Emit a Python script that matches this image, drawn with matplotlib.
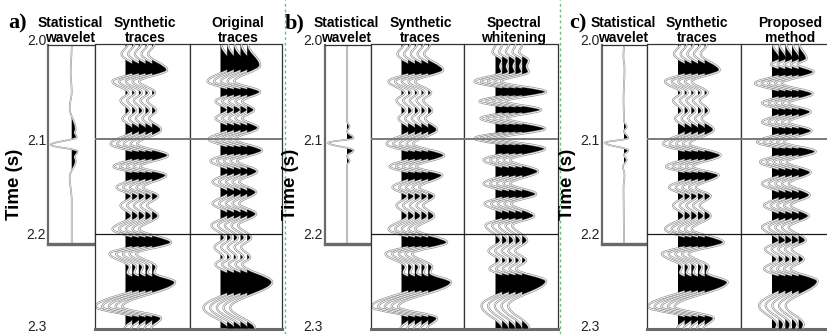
import numpy as np
import matplotlib.pyplot as plt
import matplotlib.patheffects as pe
from matplotlib.path import Path
from matplotlib.lines import Line2D
from matplotlib.transforms import ScaledTranslation
from matplotlib import font_manager

plt.rcParams['font.family'] = ['Liberation Sans', 'DejaVu Sans']

W, H = 827, 334          # figure size in pixels

# time axis (s)
time_ticks = [2.0, 2.1, 2.2, 2.3]
t_top, t_bottom = 2.0, 2.3
wavelet_end = 2.211

panel_letters = ['a)', 'b)', 'c)']
wavelet_title = ('Statistical', 'wavelet')
synth_title = ('Synthetic', 'traces')
right_titles = [('Original', 'traces'), ('Spectral', 'whitening'), ('Proposed', 'method')]

# trace extrema: time (s) and amplitude (1 unit = 10 px)
synth_t = [2.000, 2.010, 2.027, 2.039, 2.051, 2.059, 2.070, 2.078, 2.090, 2.105, 2.117, 2.129, 2.138,
           2.151, 2.160, 2.170, 2.181, 2.195, 2.209, 2.221, 2.235, 2.241, 2.251, 2.277, 2.289, 2.300]
synth_a = [0.2, -0.4, 1.5, -1.3, 0.3, -0.5, 0.4, -0.3, 0.9, -1.5, 1.6, -1.2, 1.4,
           -0.9, 0.6, -0.5, 0.6, -1.3, 1.9, -1.6, 0.4, 0.2, 2.3, -3.0, 0.9, -0.1]

orig_t = [2.000, 2.022, 2.039, 2.050, 2.060, 2.069, 2.078, 2.088, 2.100, 2.112, 2.123, 2.134,
          2.145, 2.156, 2.168, 2.179, 2.191, 2.204, 2.214, 2.225, 2.232, 2.251, 2.278, 2.300]
orig_a = [0.1, 1.3, -1.3, 1.3, -0.5, 0.7, -0.5, 1.1, -1.2, 1.5, -1.0, 1.0,
          -0.8, 0.9, -0.8, 0.9, -0.9, 0.4, -0.6, 0.3, -0.5, 2.5, -1.7, 0.8]

spec_t = [2.000, 2.008, 2.017, 2.023, 2.029, 2.039, 2.050, 2.060, 2.069, 2.078, 2.089, 2.099, 2.110, 2.122,
          2.134, 2.147, 2.158, 2.168, 2.181, 2.191, 2.207, 2.218, 2.228, 2.237, 2.250, 2.276, 2.300]
spec_a = [0.0, -0.3, 0.65, 0.45, 0.65, -2.1, 2.4, -1.6, 1.9, -1.5, 2.3, -2.1, 2.3, -1.2,
          1.6, -1.2, 1.4, -1.1, 1.2, -1.0, 0.5, -0.7, 0.4, -0.6, 2.4, -1.4, 0.7]

prop_t = [2.000, 2.015, 2.021, 2.029, 2.041, 2.052, 2.062, 2.071, 2.082, 2.091, 2.103, 2.113, 2.124, 2.135,
          2.147, 2.159, 2.170, 2.181, 2.193, 2.207, 2.216, 2.227, 2.237, 2.250, 2.276, 2.296, 2.300]
prop_a = [0.1, 0.8, -0.1, 1.5, -1.7, 1.4, -1.0, 1.2, -1.0, 1.3, -1.5, 1.7, -1.2, 1.2,
          -1.0, 1.1, -0.8, 1.0, -1.0, 0.7, -0.7, 0.5, -0.8, 1.9, -1.3, 0.5, 0.4]

# estimated wavelets
wav_a_t = [2.000, 2.030, 2.050, 2.067, 2.090, 2.093, 2.098, 2.106, 2.113, 2.119, 2.123, 2.140, 2.165, 2.211]
wav_a_a = [0.0, -0.1, 0.0, -0.2, 0.4, 0.3, 0.5, -2.1, 0.6, 0.3, 0.4, -0.2, 0.0, 0.0]

wav_b_t = [2.000, 2.081, 2.087, 2.092, 2.099, 2.104, 2.112, 2.118, 2.123, 2.128, 2.211]
wav_b_a = [0.0, 0.0, 0.25, 0.0, 0.65, -1.9, 0.65, 0.0, 0.25, 0.0, 0.0]

wav_c_t = [2.000, 2.012, 2.026, 2.060, 2.081, 2.087, 2.092, 2.099, 2.104, 2.112, 2.117, 2.122,
           2.129, 2.138, 2.152, 2.211]
wav_c_a = [0.0, -0.06, 0.05, -0.05, 0.0, 0.27, 0.0, 0.43, -1.9, 0.43, 0.0, 0.27,
           -0.1, 0.05, -0.05, 0.0]

n_traces = 5
GAIN = 10.0        # px per amplitude unit
K = 0.364          # bezier handle for half-cosine shaped lobes

# panel geometry in pixels: wavelet left/right, synthetic right, third box right, wavelet baseline
panels = [
    dict(L=48.3, R1=94.5, R2=189.5, R3=282.0, wb=23.4, wav=(wav_a_t, wav_a_a), third=(orig_t, orig_a)),
    dict(L=324.7, R1=370.5, R2=464.5, R3=557.5, wb=22.3, wav=(wav_b_t, wav_b_a), third=(spec_t, spec_a)),
    dict(L=601.7, R1=647.0, R2=741.0, R3=835.0, wb=22.3, wav=(wav_c_t, wav_c_a), third=(prop_t, prop_a)),
]
letter_x = [8, 285, 569]
Y_TOP, Y_BOT, Y_WAV = 44.5, 328.5, 244.0

names = {f.name for f in font_manager.fontManager.ttflist}
title_font = 'Liberation Sans Narrow' if 'Liberation Sans Narrow' in names else 'Liberation Sans'
title_size = 12.5 if title_font.endswith('Narrow') else 10

fig = plt.figure(figsize=(W / 100, H / 100), dpi=100)


def fx(x):
    return x / W


def fy(y):
    return 1 - y / H


def px_axes(x0, x1, y0, y1):
    return fig.add_axes([x0 / W, 1 - y1 / H, (x1 - x0) / W, (y1 - y0) / H])


def trace_curve(t, a, base):
    # smooth lobes between extrema as cubic beziers (time in ms while flattening)
    x = [base + GAIN * v for v in a]
    ms = [v * 1000 for v in t]
    verts = [(x[0], ms[0])]
    codes = [Path.MOVETO]
    for i in range(1, len(t)):
        dt = ms[i] - ms[i - 1]
        verts += [(x[i - 1], ms[i - 1] + K * dt), (x[i], ms[i] - K * dt), (x[i], ms[i])]
        codes += [Path.CURVE4] * 3
    xy = Path(verts, codes).to_polygons(closed_only=False)[0]
    return xy[:, 0], xy[:, 1] / 1000


def draw_trace(ax, t, a, base, z, outer=1.5, inner=0.6, edge='#8a8a8a'):
    x, y = trace_curve(t, a, base)
    ax.fill_betweenx(y, base, x, where=x >= base, interpolate=True,
                     facecolor='black', edgecolor='none', lw=0, zorder=z)
    ax.plot(x, y, color='white', lw=inner, zorder=z + 0.5, solid_capstyle='butt',
            path_effects=[pe.Stroke(linewidth=outer, foreground=edge), pe.Normal()])


def style_box(ax, bottom_lw=2.2, left_color='#333333', left_lw=0.9):
    ax.set_xticks([])
    ax.set_yticks([])
    for s in ['top', 'right']:
        ax.spines[s].set_color('#333333')
        ax.spines[s].set_linewidth(0.9)
    ax.spines['left'].set_color(left_color)
    ax.spines['left'].set_linewidth(left_lw)
    ax.spines['bottom'].set_color('#6a6a6a')
    ax.spines['bottom'].set_linewidth(bottom_lw)


for p, letter, third_title in zip(panels, panel_letters, right_titles):
    L, R1, R2, R3 = p['L'], p['R1'], p['R2'], p['R3']

    # time labels
    ax_t = px_axes(L, R1, Y_TOP, Y_BOT)
    ax_t.set_ylim(t_bottom, t_top)
    ax_t.set_yticks(time_ticks)
    ax_t.set_yticklabels([f'{v:.1f}' for v in time_ticks])
    ax_t.tick_params(axis='y', length=0, pad=1.5, labelsize=10, labelcolor='#222222')
    ax_t.set_xticks([])
    for s in ax_t.spines.values():
        s.set_visible(False)
    ax_t.patch.set_visible(False)
    tlabels = ax_t.get_yticklabels()
    for lab, dy in [(tlabels[0], 5), (tlabels[-1], 3)]:
        lab.set_transform(lab.get_transform() + ScaledTranslation(0, dy / 100, fig.dpi_scale_trans))

    # wavelet
    ax_w = px_axes(L, R1, Y_TOP, Y_WAV)
    ax_w.set_ylim(wavelet_end, t_top)
    ax_w.set_xlim(-p['wb'], R1 - L - p['wb'])
    style_box(ax_w, bottom_lw=2.4, left_color='#6a6a6a', left_lw=1.6)
    wt, wa = p['wav']
    draw_trace(ax_w, wt, wa, 0.0, 2, outer=1.2, inner=0.4, edge='#8f8f8f')

    # synthetic and processed traces
    for (x0, x1), (tt, aa) in zip([(R1, R2), (R2, R3)], [(synth_t, synth_a), p['third']]):
        ax = px_axes(x0, x1, Y_TOP, Y_BOT)
        ax.set_ylim(t_bottom, t_top)
        ax.set_xlim(0, x1 - x0)
        style_box(ax)
        ax.axhline(2.1, color='#7a7a7a', lw=1.4, zorder=10)
        ax.axhline(2.2, color='#1a1a1a', lw=0.9, zorder=10)
        for k in range(n_traces):
            draw_trace(ax, tt, aa, 31.0 + 6.67 * k, 2 + k)

    # titles
    wc = (L + R1) / 2 - 1
    sc = (R1 + R2) / 2 + 3
    tc = (R2 + R3) / 2 + 2.5
    for cx, (l1, l2) in [(wc, wavelet_title), (sc, synth_title), (tc, third_title)]:
        fig.text(fx(cx), fy(27), l1, ha='center', va='baseline', family=title_font,
                 fontweight='bold', fontsize=title_size)
        fig.text(fx(cx), fy(41.7), l2, ha='center', va='baseline', family=title_font,
                 fontweight='bold', fontsize=title_size)

    fig.text(fx(L - 34), fy(184), 'Time (s)', rotation=90, ha='center', va='center',
             fontsize=13.5, fontweight='bold')

for lx, letter in zip(letter_x, panel_letters):
    fig.text(fx(lx), fy(28), letter, ha='left', va='baseline', family='Liberation Serif',
             fontweight='bold', fontsize=16)

# dashed separators between panels
for sx in [284.8, 560.0]:
    fig.add_artist(Line2D([fx(sx), fx(sx)], [0, 1], transform=fig.transFigure,
                          color='#6cbf84', lw=1.0, ls=(0, (2, 2))))

fig.savefig('out.png', dpi=100)
